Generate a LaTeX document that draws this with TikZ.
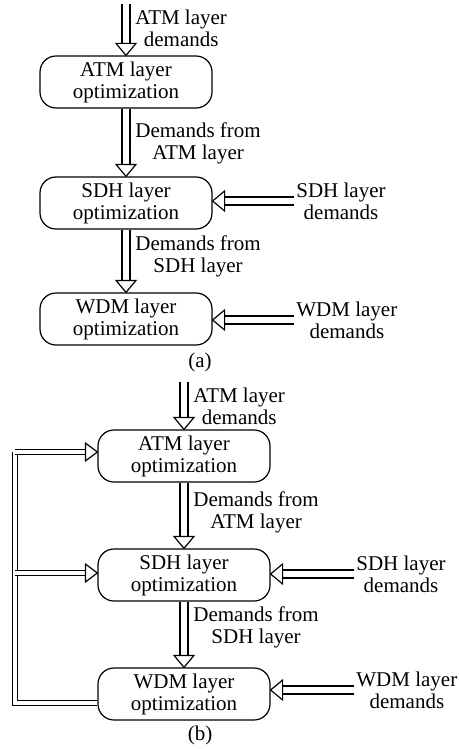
\documentclass[tikz,border=0pt]{standalone}
\usepackage{fontspec}
\setmainfont{Liberation Serif}
\usetikzlibrary{arrows.meta,positioning,calc,decorations.markings}

\tikzset{hd/.style 2 args={postaction={decorate,decoration={markings,
  mark=at position 1 with {\draw[semithick,fill=white] (0,0)--(-#1,#2)--(-#1,-#2)--cycle;}}}}}

\begin{document}
\begin{tikzpicture}[x=0.5pt,y=-0.5pt,font=\fontsize{10.5}{11}\selectfont,
 opt/.style={draw,semithick,rounded corners=8pt,align=center,minimum width=86pt,minimum height=26pt,inner sep=2pt},
 lbl/.style={align=center,inner sep=1pt},
 blk/.style={double,semithick,double distance=3.4pt,shorten >=6pt,hd={6pt}{5pt}},
 fb/.style={double,semithick,double distance=1.8pt},
 fbk/.style={fb,shorten >=6pt,hd={6pt}{4.5pt}}]
\useasboundingbox (0,0) rectangle (459,749);
% (a) layers one after the other
\node[opt] (atma) at (126,82) {ATM layer\\optimization};
\node[opt] (sdha) at (126,203) {SDH layer\\optimization};
\node[opt] (wdma) at (126,319) {WDM layer\\optimization};
\coordinate (ina) at (126,4);
\node[lbl,anchor=west] (atmda) at (133,28) {ATM layer\\demands};
\node[lbl,anchor=west] (froma) at (133,143) {Demands from\\ATM layer};
\node[lbl,anchor=west] (fromsa) at (133,256) {Demands from\\SDH layer};
\node[lbl,anchor=west] (sdhda) at (294,201) {SDH layer\\demands};
\node[lbl,anchor=west] (wdmda) at (294,320) {WDM layer\\demands};
\draw[blk] (ina)--(atma);\draw[blk] (atma)--(sdha);\draw[blk] (sdha)--(wdma);
\draw[blk] (sdhda.west)--(sdhda.west -| sdha.east);
\draw[blk] (wdmda.west)--(wdmda.west -| wdma.east);
\node (capa) at (200,362) {(a)};
% (b) with feedback from the WDM layer
\node[opt] (atmb) at (184,456) {ATM layer\\optimization};
\node[opt] (sdhb) at (184,575) {SDH layer\\optimization};
\node[opt] (wdmb) at (184,694) {WDM layer\\optimization};
\coordinate (inb) at (184,382);
\node[lbl,anchor=west] (atmdb) at (191,406) {ATM layer\\demands};
\node[lbl,anchor=west] (fromb) at (191,512) {Demands from\\ATM layer};
\node[lbl,anchor=west] (fromsb) at (191,627) {Demands from\\SDH layer};
\node[lbl,anchor=west] (sdhdb) at (354,574) {SDH layer\\demands};
\node[lbl,anchor=west] (wdmdb) at (354,690) {WDM layer\\demands};
\draw[blk] (inb)--(atmb);\draw[blk] (atmb)--(sdhb);\draw[blk] (sdhb)--(wdmb);
\draw[blk] (sdhdb.west)--(sdhdb.west -| sdhb.east);
\draw[blk] (wdmdb.west)--(wdmdb.west -| wdmb.east);
\coordinate (fbl) at (15,703);
\coordinate (fbs) at (15,573);
\coordinate (fbt) at (15,452);
\draw[fb] (wdmb.west |- fbl)--(fbl)--(fbt);
\draw[fbk] (fbt)--(fbt -| atmb.west);
\draw[fbk] (fbs)--(fbs -| sdhb.west);
\node (capb) at (200,735) {(b)};
\end{tikzpicture}
\end{document}
